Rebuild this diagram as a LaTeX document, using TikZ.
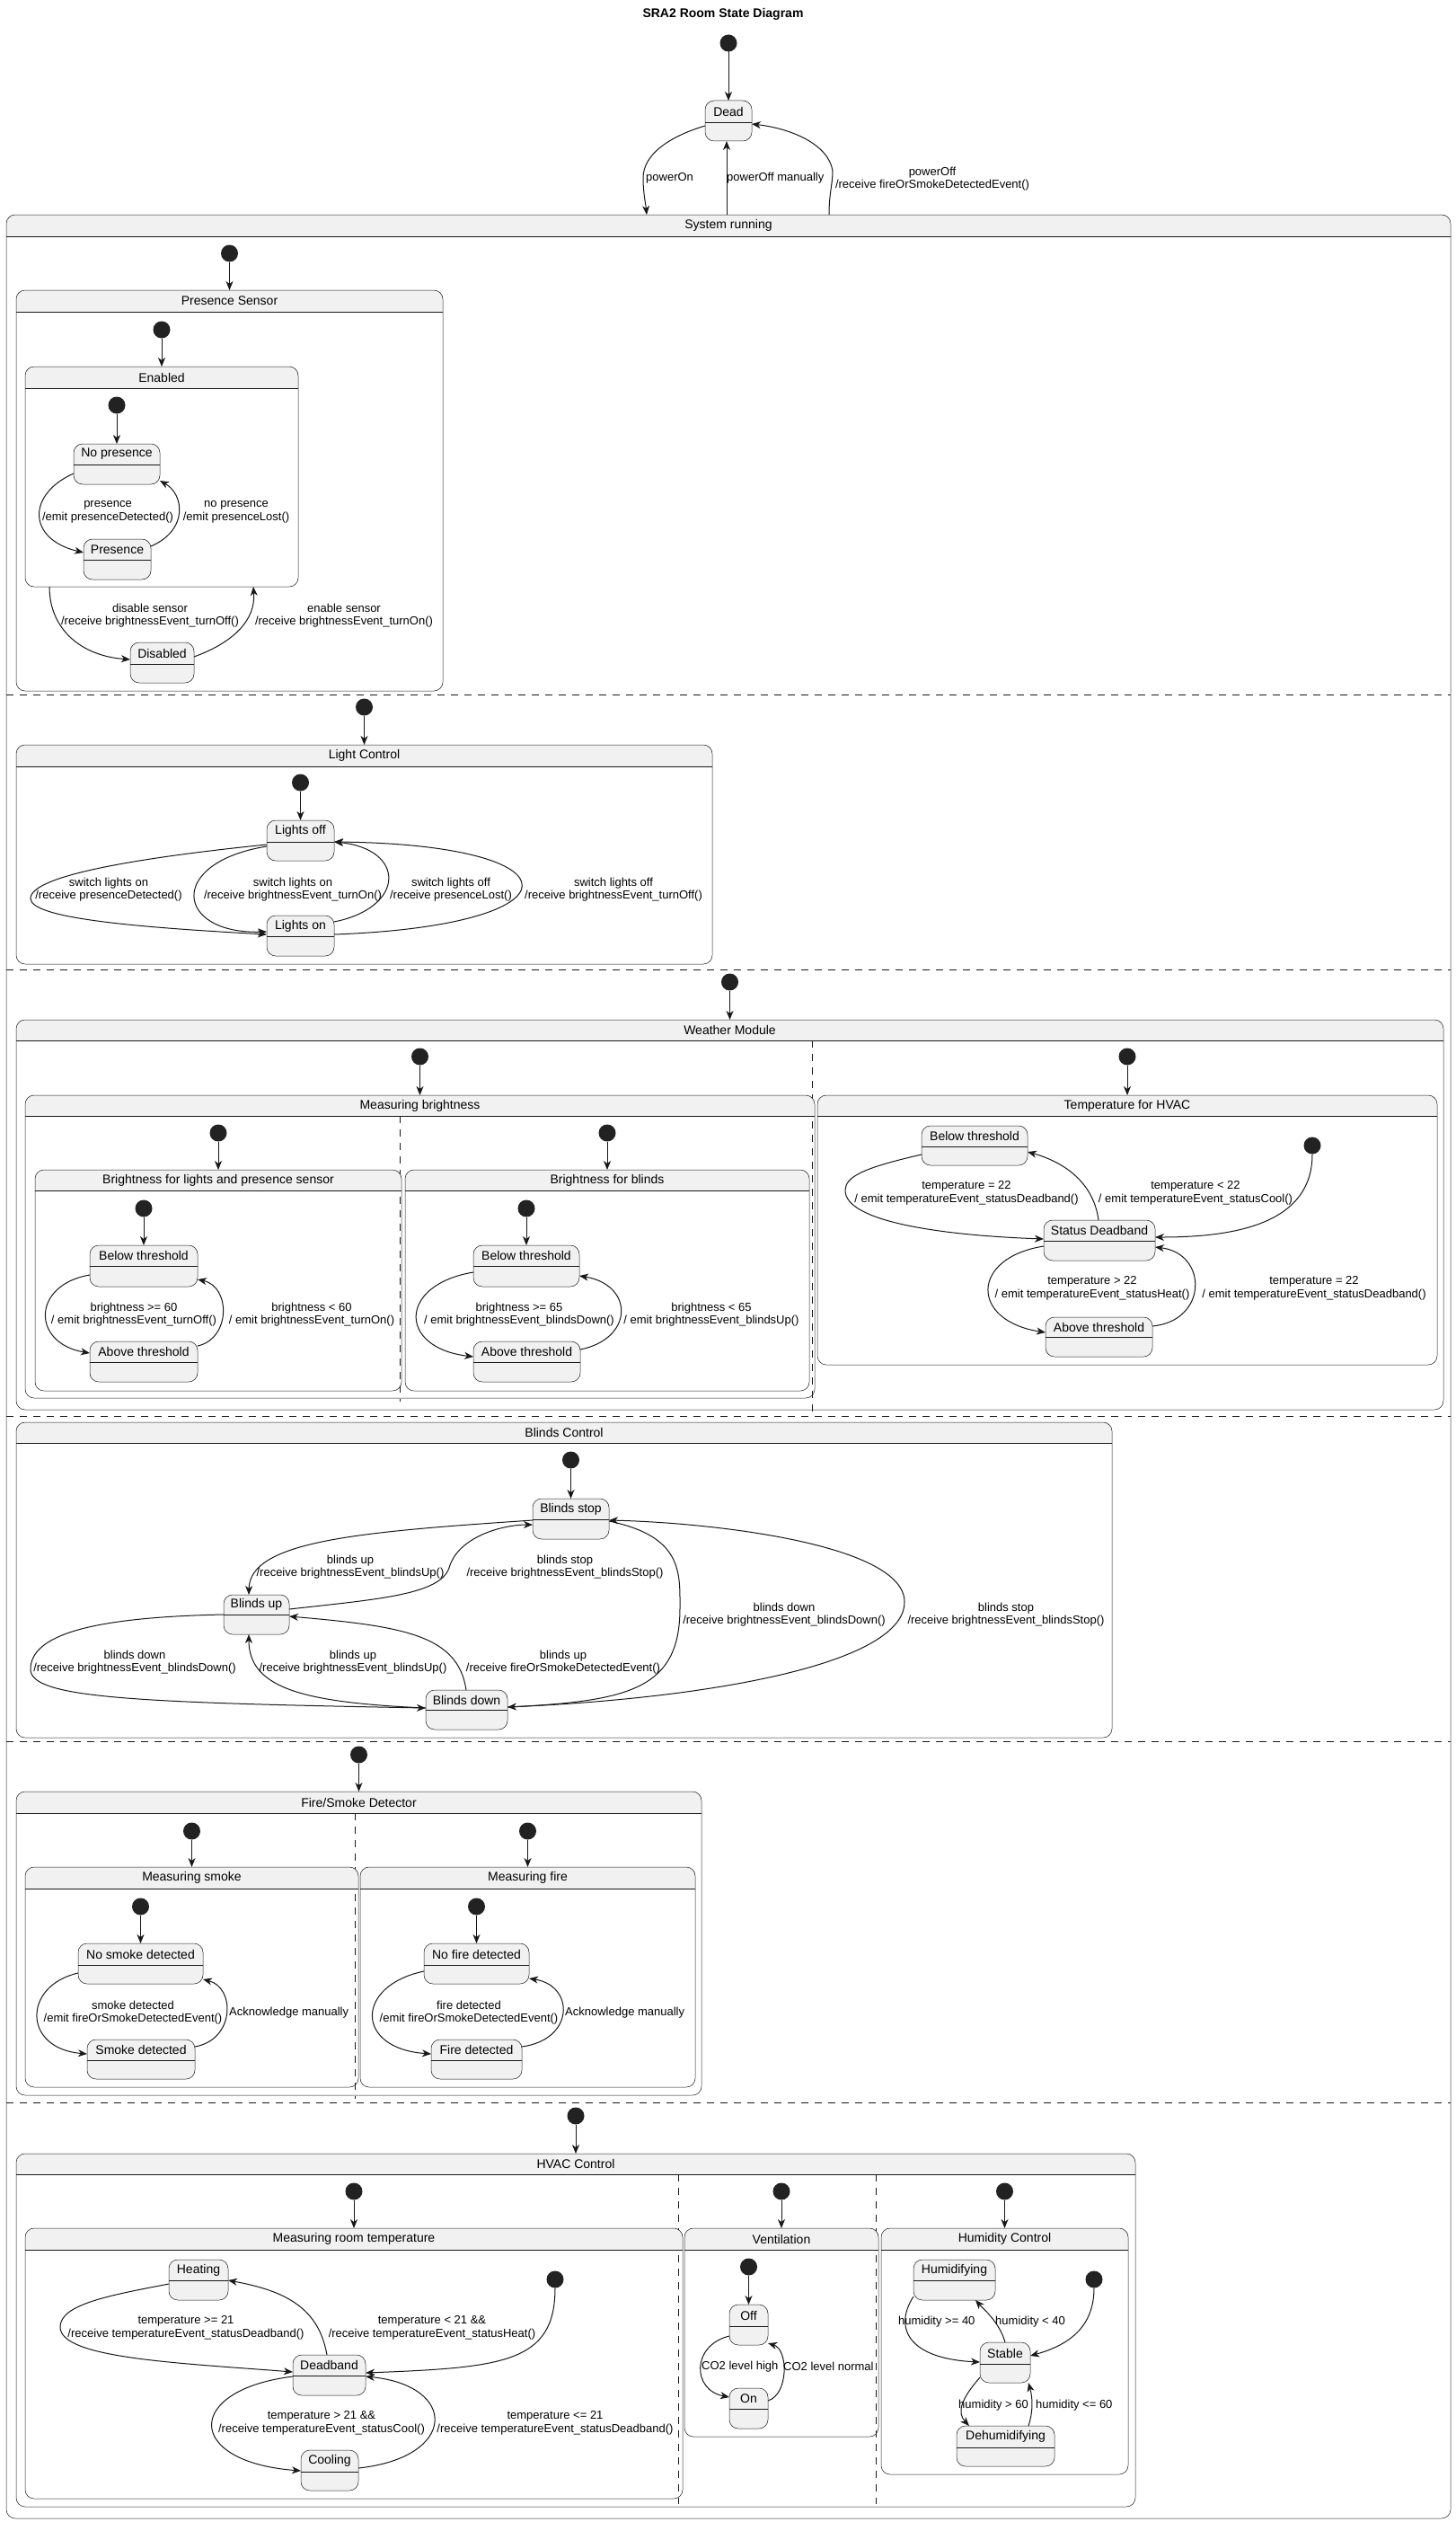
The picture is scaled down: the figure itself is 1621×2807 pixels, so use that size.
\documentclass[tikz,border=0pt]{standalone}
\usepackage{fontspec}
\setmainfont{Liberation Sans}
\usetikzlibrary{arrows.meta}
\definecolor{linec}{HTML}{181818}
\definecolor{sfill}{HTML}{F1F1F1}
\definecolor{dotc}{HTML}{222222}
\tikzset{
 boxline/.style={draw=linec, line width=0.5pt},
 sst/.style={rectangle, draw=linec, line width=0.5pt, fill=sfill, rounded corners=10pt, inner sep=0pt, outer sep=0pt},
 cst/.style={rectangle, draw=linec, line width=0.5pt, rounded corners=10pt, inner sep=0pt, outer sep=0pt},
 stname/.style={inner sep=0pt, font=\fontsize{14}{16}\selectfont},
 lbl/.style={inner sep=0pt, align=center, font=\fontsize{13}{14.5}\selectfont},
 initdot/.style={circle, fill=dotc, minimum size=19pt, inner sep=0pt, outer sep=0pt},
 arr/.style={draw=linec, line width=1pt, -{Stealth[length=10pt,width=8pt,inset=3pt]}},
 sepdash/.style={draw=linec, line width=1pt, dash pattern=on 8pt off 7pt},
}
\newcommand{\sst}[7]{%
 \node[sst, minimum width={#4-#2}, minimum height={#5-#3}] (#1) at ({(#2+#4)/2},{(#3+#5)/2}) {};
 \draw[boxline] (#2,#6) -- (#4,#6);
 \node[stname] (#1-t) at ({(#2+#4)/2},{(#3+#6)/2}) {#7};}
\newcommand{\cst}[7]{%
 \begin{scope}\clip (#2,#3) rectangle (#4,#6);
 \fill[sfill, rounded corners=10pt] (#2,#3) rectangle (#4,#5);\end{scope}
 \node[cst, minimum width={#4-#2}, minimum height={#5-#3}] (#1) at ({(#2+#4)/2},{(#3+#5)/2}) {};
 \draw[boxline] (#2,#6) -- (#4,#6);
 \node[stname] (#1-t) at ({(#2+#4)/2},{(#3+#6)/2}) {#7};}
\begin{document}
\begin{tikzpicture}[x=1pt,y=-1pt]
\useasboundingbox (0,0) rectangle (1621,2807);
\fill[white] (0,0) rectangle (1621,2807);
\node[font=\bfseries\fontsize{14}{16}\selectfont] (title) at (805,16) {SRA2 Room State Diagram};

% ---------- states ----------
\cst{sys}{7}{239}{1615}{2803}{263}{System running}
\sst{dead}{785}{112}{837}{157}{136}{Dead}
\draw[sepdash] (7,773) -- (1615,773);
\draw[sepdash] (7,1079) -- (1615,1079);
\draw[sepdash] (7,1576) -- (1615,1576);
\draw[sepdash] (7,1938) -- (1615,1938);
\draw[sepdash] (7,2340) -- (1615,2340);

\cst{ps}{18}{323}{493}{769}{347}{Presence Sensor}
\cst{en}{28}{408}{332}{653}{432}{Enabled}
\sst{nop}{82}{494}{178}{539}{517}{No presence}
\sst{pres}{93}{600}{168}{645}{623}{Presence}
\sst{dis}{145}{715}{216}{760}{739}{Disabled}

\cst{lictl}{18}{829}{793}{1073}{853}{Light Control}
\sst{loff}{297}{913}{372}{958}{937}{Lights off}
\sst{lon}{297}{1019}{372}{1064}{1042}{Lights on}

\cst{wm}{18}{1135}{1607}{1569}{1158}{Weather Module}
\draw[sepdash] (904,1158) -- (904,1574);
\cst{mb}{28}{1219}{907}{1556}{1242}{Measuring brightness}
\draw[sepdash] (445,1242) -- (445,1560);
\cst{bl}{39}{1302}{447}{1548}{1325}{Brightness for lights and presence sensor}
\sst{lbelow}{100}{1386}{220}{1432}{1409}{Below threshold}
\sst{labove}{100}{1493}{220}{1538}{1516}{Above threshold}
\cst{bb}{451}{1302}{901}{1548}{1325}{Brightness for blinds}
\sst{bbelow}{527}{1386}{645}{1432}{1409}{Below threshold}
\sst{babove}{527}{1493}{646}{1538}{1516}{Above threshold}
\cst{th}{910}{1219}{1600}{1519}{1242}{Temperature for HVAC}
\sst{tbelow}{1026}{1253}{1144}{1297}{1276}{Below threshold}
\sst{tdead}{1162}{1358}{1286}{1403}{1381}{Status Deadband}
\sst{tabove}{1164}{1466}{1283}{1510}{1488}{Above threshold}

\cst{bc}{18}{1583}{1238}{1934}{1606}{Blinds Control}
\sst{bstop}{593}{1668}{678}{1713}{1691}{Blinds stop}
\sst{bup}{249}{1775}{322}{1819}{1797}{Blinds up}
\sst{bdown}{474}{1881}{565}{1925}{1903}{Blinds down}

\cst{fs}{18}{1994}{781}{2332}{2018}{Fire/Smoke Detector}
\draw[sepdash] (395,2018) -- (395,2336);
\cst{ms}{28}{2078}{399}{2323}{2102}{Measuring smoke}
\sst{nosmoke}{87}{2163}{226}{2208}{2187}{No smoke detected}
\sst{smoke}{97}{2270}{217}{2314}{2293}{Smoke detected}
\cst{mf}{401}{2078}{774}{2323}{2102}{Measuring fire}
\sst{nofire}{472}{2163}{589}{2208}{2187}{No fire detected}
\sst{fire}{480}{2270}{581}{2314}{2293}{Fire detected}

\cst{hv}{18}{2397}{1264}{2790}{2420}{HVAC Control}
\draw[sepdash] (755,2420) -- (755,2787);
\draw[sepdash] (975,2420) -- (975,2787);
\cst{mr}{28}{2480}{760}{2781}{2504}{Measuring room temperature}
\sst{heat}{188}{2515}{254}{2560}{2538}{Heating}
\sst{dband}{326}{2621}{407}{2666}{2644}{Deadband}
\sst{cool}{335}{2727}{399}{2772}{2751}{Cooling}
\cst{ve}{762}{2480}{978}{2712}{2504}{Ventilation}
\sst{voff}{812}{2565}{855}{2610}{2589}{Off}
\sst{von}{812}{2658}{855}{2703}{2681}{On}
\cst{hc}{981}{2480}{1256}{2754}{2504}{Humidity Control}
\sst{humid}{1017}{2515}{1108}{2560}{2538}{Humidifying}
\sst{stable}{1091}{2607}{1147}{2652}{2631}{Stable}
\sst{dehum}{1065}{2700}{1174}{2745}{2724}{Dehumidifying}

% ---------- initial dots ----------
\node[initdot] (d0) at (811,48) {};
\node[initdot] (dps) at (255.5,282) {};
\node[initdot] (den) at (180,367) {};
\node[initdot] (dnop) at (130,451) {};
\node[initdot] (dlc) at (405.5,787) {};
\node[initdot] (dlo) at (334.5,871) {};
\node[initdot] (dwm) at (812.5,1093) {};
\node[initdot] (dmb) at (467.5,1176) {};
\node[initdot] (dbl) at (243,1261) {};
\node[initdot] (dlb) at (160,1345) {};
\node[initdot] (dbb) at (676,1261) {};
\node[initdot] (dbbb) at (586,1345) {};
\node[initdot] (dth) at (1255,1176) {};
\node[initdot] (dts) at (1461,1275) {};
\node[initdot] (dbc) at (635.5,1625) {};
\node[initdot] (dfs) at (399.5,1953) {};
\node[initdot] (dms) at (213.5,2038) {};
\node[initdot] (dms2) at (156.5,2122) {};
\node[initdot] (dmf) at (587.5,2038) {};
\node[initdot] (dmf2) at (530.5,2122) {};
\node[initdot] (dhv) at (641,2355) {};
\node[initdot] (dmr) at (394,2439) {};
\node[initdot] (dmr2) at (618,2537) {};
\node[initdot] (dve) at (870,2439) {};
\node[initdot] (dve2) at (833.5,2523) {};
\node[initdot] (dhc) at (1118.5,2439) {};
\node[initdot] (dhc2) at (1218,2537) {};

\draw[arr] (d0) -- (d0 |- dead.north);
\draw[arr] (dps) -- (dps |- ps.north);
\draw[arr] (den) -- (den |- en.north);
\draw[arr] (dnop) -- (dnop |- nop.north);
\draw[arr] (dlc) -- (dlc |- lictl.north);
\draw[arr] (dlo) -- (dlo |- loff.north);
\draw[arr] (dwm) -- (dwm |- wm.north);
\draw[arr] (dmb) -- (dmb |- mb.north);
\draw[arr] (dbl) -- (dbl |- bl.north);
\draw[arr] (dlb) -- (dlb |- lbelow.north);
\draw[arr] (dbb) -- (dbb |- bb.north);
\draw[arr] (dbbb) -- (dbbb |- bbelow.north);
\draw[arr] (dth) -- (dth |- th.north);
\draw[arr] (dbc) -- (dbc |- bstop.north);
\draw[arr] (dfs) -- (dfs |- fs.north);
\draw[arr] (dms) -- (dms |- ms.north);
\draw[arr] (dms2) -- (dms2 |- nosmoke.north);
\draw[arr] (dmf) -- (dmf |- mf.north);
\draw[arr] (dmf2) -- (dmf2 |- nofire.north);
\draw[arr] (dhv) -- (dhv |- hv.north);
\draw[arr] (dmr) -- (dmr |- mr.north);
\draw[arr] (dve) -- (dve |- ve.north);
\draw[arr] (dve2) -- (dve2 |- voff.north);
\draw[arr] (dhc) -- (dhc |- hc.north);

% ---------- transitions ----------
% top
\draw[arr] ([shift={(0,28)}]dead.north west) .. controls (745,152) and (716,172) .. (716,198) .. controls (716,215) and (719,228) .. ([shift={(713,0)}]sys.north west);
\draw[arr] ([shift={(802,0)}]sys.north west) -- ([shift={(24,45)}]dead.north west);
\draw[arr] ([shift={(916,0)}]sys.north west) .. controls (923,215) and (927,205) .. (927,190) .. controls (922,160) and (880,143) .. ([shift={(52,26)}]dead.north west);
% presence
\draw[arr] ([shift={(0,33)}]nop.north west) .. controls (30,550) and (30,600) .. ([shift={(0,15)}]pres.north west);
\draw[arr] ([shift={(75,8)}]pres.north west) .. controls (210,590) and (205,550) .. ([shift={(96,41)}]nop.north west);
\draw[arr] ([shift={(27,245)}]en.north west) .. controls (55,700) and (90,730) .. ([shift={(0,19)}]dis.north west);
\draw[arr] ([shift={(71,16)}]dis.north west) .. controls (260,715) and (285,690) .. ([shift={(254,245)}]en.north west);
% lights
\draw[arr] ([shift={(0,27)}]loff.north west) .. controls (150,955) and (34,975) .. (34,1000) .. controls (34,1022) and (150,1032) .. ([shift={(0,21)}]lon.north west);
\draw[arr] ([shift={(0,29)}]loff.north west) .. controls (185,960) and (195,1040) .. ([shift={(0,18)}]lon.north west);
\draw[arr] ([shift={(75,7)}]lon.north west) .. controls (452,1010) and (452,945) .. ([shift={(75,24)}]loff.north west);
\draw[arr] ([shift={(75,21)}]lon.north west) .. controls (650,1030) and (650,940) .. ([shift={(75,24)}]loff.north west);
% weather
\draw[arr] ([shift={(0,33)}]lbelow.north west) .. controls (35,1430) and (35,1495) .. ([shift={(0,13)}]labove.north west);
\draw[arr] ([shift={(120,5)}]labove.north west) .. controls (257,1490) and (257,1432) .. ([shift={(120,38)}]lbelow.north west);
\draw[arr] ([shift={(0,30)}]bbelow.north west) .. controls (443,1430) and (443,1500) .. ([shift={(0,17)}]babove.north west);
\draw[arr] ([shift={(119,9)}]babove.north west) .. controls (706,1490) and (706,1430) .. ([shift={(118,34)}]bbelow.north west);
\draw[arr] (dts) .. controls (1461,1360) and (1380,1377) .. ([shift={(124,19)}]tdead.north west);
\draw[arr] ([shift={(0,32)}]tbelow.north west) .. controls (960,1300) and (941,1310) .. (941,1325) .. controls (941,1360) and (1050,1375) .. ([shift={(0,21)}]tdead.north west);
\draw[arr] ([shift={(61,0)}]tdead.north west) .. controls (1218,1320) and (1190,1295) .. ([shift={(118,29)}]tbelow.north west);
\draw[arr] ([shift={(0,29)}]tdead.north west) .. controls (1080,1400) and (1080,1470) .. ([shift={(0,17)}]tabove.north west);
\draw[arr] ([shift={(119,10)}]tabove.north west) .. controls (1345,1470) and (1345,1395) .. ([shift={(124,30)}]tdead.north west);
% blinds
\draw[arr] ([shift={(0,24)}]bstop.north west) .. controls (400,1705) and (278,1715) .. ([shift={(28,0)}]bup.north west);
\draw[arr] ([shift={(73,16)}]bup.north west) .. controls (420,1780) and (490,1775) .. (500,1745) .. controls (510,1710) and (560,1697) .. ([shift={(0,29)}]bstop.north west);
\draw[arr] ([shift={(0,22)}]bup.north west) .. controls (100,1800) and (34,1820) .. (34,1858) .. controls (34,1890) and (150,1895) .. ([shift={(0,20)}]bdown.north west);
\draw[arr] ([shift={(0,20)}]bdown.north west) .. controls (340,1895) and (277,1880) .. ([shift={(28,44)}]bup.north west);
\draw[arr] ([shift={(45,0)}]bdown.north west) .. controls (510,1820) and (450,1810) .. ([shift={(73,24)}]bup.north west);
\draw[arr] ([shift={(85,25)}]bstop.north west) .. controls (760,1710) and (757,1750) .. (757,1790) .. controls (757,1880) and (700,1893) .. ([shift={(91,19)}]bdown.north west);
\draw[arr] ([shift={(91,19)}]bdown.north west) .. controls (800,1890) and (1007,1850) .. (1007,1783) .. controls (1007,1720) and (800,1695) .. ([shift={(85,24)}]bstop.north west);
% fire / smoke
\draw[arr] ([shift={(0,33)}]nosmoke.north west) .. controls (25,2210) and (25,2280) .. ([shift={(0,16)}]smoke.north west);
\draw[arr] ([shift={(120,8)}]smoke.north west) .. controls (262,2270) and (262,2212) .. ([shift={(139,40)}]nosmoke.north west);
\draw[arr] ([shift={(0,31)}]nofire.north west) .. controls (395,2210) and (395,2280) .. ([shift={(0,16)}]fire.north west);
\draw[arr] ([shift={(101,8)}]fire.north west) .. controls (640,2270) and (640,2210) .. ([shift={(117,39)}]nofire.north west);
% hvac
\draw[arr] (dmr2) .. controls (618,2630) and (560,2635) .. ([shift={(81,20)}]dband.north west);
\draw[arr] ([shift={(0,27)}]heat.north west) .. controls (120,2555) and (67,2565) .. (67,2590) .. controls (67,2625) and (200,2630) .. ([shift={(0,19)}]dband.north west);
\draw[arr] ([shift={(38,0)}]dband.north west) .. controls (355,2570) and (320,2550) .. ([shift={(66,23)}]heat.north west);
\draw[arr] ([shift={(0,24)}]dband.north west) .. controls (205,2660) and (205,2740) .. ([shift={(0,23)}]cool.north west);
\draw[arr] ([shift={(64,20)}]cool.north west) .. controls (510,2735) and (510,2655) .. ([shift={(81,24)}]dband.north west);
\draw[arr] ([shift={(0,35)}]voff.north west) .. controls (770,2610) and (770,2660) .. ([shift={(0,10)}]von.north west);
\draw[arr] ([shift={(43,14)}]von.north west) .. controls (878,2665) and (878,2615) .. ([shift={(43,43)}]voff.north west);
\draw[arr] (dhc2) .. controls (1218,2590) and (1190,2610) .. ([shift={(56,15)}]stable.north west);
\draw[arr] ([shift={(0,41)}]humid.north west) .. controls (995,2590) and (1010,2625) .. ([shift={(0,22)}]stable.north west);
\draw[arr] ([shift={(28,0)}]stable.north west) .. controls (1113,2585) and (1095,2570) .. ([shift={(69,45)}]humid.north west);
\draw[arr] ([shift={(0,39)}]stable.north west) .. controls (1070,2670) and (1065,2685) .. ([shift={(14,0)}]dehum.north west);
\draw[arr] ([shift={(80,0)}]dehum.north west) .. controls (1150,2685) and (1150,2670) .. ([shift={(54,45)}]stable.north west);

% ---------- labels ----------
\node[lbl, anchor=west] (l1) at (719,198) {powerOn};
\node[lbl, anchor=west] (l2) at (809,198) {powerOff manually};
\node[lbl] (l3) at (1038,199) {powerOff\\/receive fireOrSmokeDetectedEvent()};
\node[lbl] (l4) at (120,570) {presence\\/emit presenceDetected()};
\node[lbl] (l5) at (263,570) {no presence\\/emit presenceLost()};
\node[lbl] (l6) at (167,685) {disable sensor\\/receive brightnessEvent\_turnOff()};
\node[lbl] (l7) at (383,685) {enable sensor\\/receive brightnessEvent\_turnOn()};
\node[lbl] (l8) at (121,990) {switch lights on\\/receive presenceDetected()};
\node[lbl] (l9) at (326,990) {switch lights on\\/receive brightnessEvent\_turnOn()};
\node[lbl] (l10) at (502,990) {switch lights off\\/receive presenceLost()};
\node[lbl] (l11) at (683,990) {switch lights off\\/receive brightnessEvent\_turnOff()};
\node[lbl] (l12) at (149,1463) {brightness >= 60\\/ emit brightnessEvent\_turnOff()};
\node[lbl] (l13) at (347,1463) {brightness < 60\\/ emit brightnessEvent\_turnOn()};
\node[lbl] (l14) at (578,1463) {brightness >= 65\\/ emit brightnessEvent\_blindsDown()};
\node[lbl] (l15) at (792,1463) {brightness < 65\\/ emit brightnessEvent\_blindsUp()};
\node[lbl] (l16) at (1076,1328) {temperature = 22\\/ emit temperatureEvent\_statusDeadband()};
\node[lbl] (l17) at (1331,1328) {temperature < 22\\/ emit temperatureEvent\_statusCool()};
\node[lbl] (l18) at (1216,1434) {temperature > 22\\/ emit temperatureEvent\_statusHeat()};
\node[lbl] (l19) at (1463,1434) {temperature = 22\\/ emit temperatureEvent\_statusDeadband()};
\node[lbl] (l20) at (390,1744) {blinds up\\/receive brightnessEvent\_blindsUp()};
\node[lbl] (l21) at (629,1744) {blinds stop\\/receive brightnessEvent\_blindsStop()};
\node[lbl] (l22) at (150,1850) {blinds down\\/receive brightnessEvent\_blindsDown()};
\node[lbl] (l23) at (393,1850) {blinds up\\/receive brightnessEvent\_blindsUp()};
\node[lbl] (l24) at (627,1850) {blinds up\\/receive fireOrSmokeDetectedEvent()};
\node[lbl] (l25) at (873,1797) {blinds down\\/receive brightnessEvent\_blindsDown()};
\node[lbl] (l26) at (1120,1797) {blinds stop\\/receive brightnessEvent\_blindsStop()};
\node[lbl] (l27) at (148,2240) {smoke detected\\/emit fireOrSmokeDetectedEvent()};
\node[lbl, anchor=west] (l28) at (255,2240) {Acknowledge manually};
\node[lbl] (l29) at (522,2240) {fire detected\\/emit fireOrSmokeDetectedEvent()};
\node[lbl, anchor=west] (l30) at (629,2240) {Acknowledge manually};
\node[lbl] (l31) at (207,2591) {temperature >= 21\\/receive temperatureEvent\_statusDeadband()};
\node[lbl] (l32) at (481,2591) {temperature < 21 \&\&\\/receive temperatureEvent\_statusHeat()};
\node[lbl] (l33) at (358,2697) {temperature > 21 \&\&\\/receive temperatureEvent\_statusCool()};
\node[lbl] (l34) at (618,2697) {temperature <= 21\\/receive temperatureEvent\_statusDeadband()};
\node[lbl, anchor=west] (l35) at (781,2634) {CO2 level high};
\node[lbl, anchor=west] (l36) at (872,2634) {CO2 level normal};
\node[lbl, anchor=west] (l37) at (1000,2584) {humidity >= 40};
\node[lbl, anchor=west] (l38) at (1108,2584) {humidity < 40};
\node[lbl, anchor=west] (l39) at (1067,2677) {humidity > 60};
\node[lbl, anchor=west] (l40) at (1153,2677) {humidity <= 60};
\end{tikzpicture}
\end{document}
